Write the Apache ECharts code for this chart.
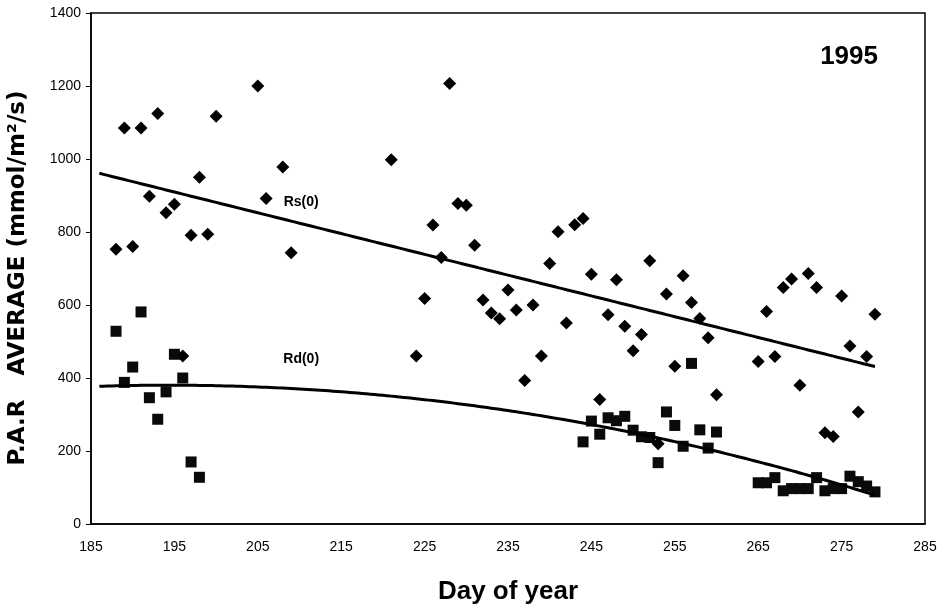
<!DOCTYPE html>
<html>
<head>
<meta charset="utf-8">
<title>P.A.R average 1995</title>
<script src="https://cdn.jsdelivr.net/npm/echarts@6/dist/echarts.min.js"></script>
<style>
  html, body { margin: 0; padding: 0; background: #fff; }
  #chart { width: 946px; height: 605px; }
</style>
</head>
<body>
<div id="chart"></div>
<script>
// Direct radiation Rs(0): day of year and PAR average
const rsDays = [188, 189, 190, 191, 192, 193, 194, 195, 196, 197, 198, 199, 200, 205, 206, 208, 209,
  221, 224, 225, 226, 227, 228, 229, 230, 231, 232, 233, 234, 235, 236, 237, 238, 239, 240, 241, 242, 243, 244,
  245, 246, 247, 248, 249, 250, 251, 252, 253, 254, 255, 256, 257, 258, 259, 260,
  265, 266, 267, 268, 269, 270, 271, 272, 273, 274, 275, 276, 277, 278, 279];
const rsValues = [753, 1085, 760, 1085, 898, 1125, 853, 876, 460, 791, 950, 794, 1117, 1200, 892, 978, 743,
  998, 460, 618, 819, 730, 1207, 878, 873, 764, 614, 578, 562, 641, 586, 393, 600, 460, 714, 801, 551, 820, 837,
  684, 341, 573, 669, 542, 475, 519, 721, 220, 630, 432, 680, 607, 563, 510, 354,
  445, 582, 459, 648, 671, 380, 686, 648, 250, 240, 625, 488, 307, 459, 575];

// Diffuse radiation Rd(0)
const rdDays = [188, 189, 190, 191, 192, 193, 194, 195, 196, 197, 198,
  244, 245, 246, 247, 248, 249, 250, 251, 252, 253, 254, 255, 256, 257, 258, 259, 260,
  265, 266, 267, 268, 269, 270, 271, 272, 273, 274, 275, 276, 277, 278, 279];
const rdValues = [528, 388, 430, 581, 346, 287, 362, 465, 400, 170, 128,
  225, 282, 246, 291, 283, 295, 257, 239, 237, 168, 307, 270, 213, 440, 258, 208, 252,
  113, 113, 127, 91, 97, 97, 97, 127, 91, 97, 97, 131, 116, 104, 88];

// Axis ticks
const xTicks = [185, 195, 205, 215, 225, 235, 245, 255, 265, 275, 285];
const yTicks = [0, 200, 400, 600, 800, 1000, 1200, 1400];

// Trend line span (days)
const fitStart = 186;
const fitEnd = 279;

// Least-squares polynomial fit (normal equations, Gaussian elimination)
function polyFit(xs, ys, degree) {
  const n = degree + 1;
  const A = [];
  for (let r = 0; r < n; r++) {
    A.push(new Array(n + 1).fill(0));
  }
  for (let i = 0; i < xs.length; i++) {
    const x = xs[i], y = ys[i];
    for (let r = 0; r < n; r++) {
      for (let c = 0; c < n; c++) A[r][c] += Math.pow(x, r + c);
      A[r][n] += y * Math.pow(x, r);
    }
  }
  for (let p = 0; p < n; p++) {
    let best = p;
    for (let r = p + 1; r < n; r++) if (Math.abs(A[r][p]) > Math.abs(A[best][p])) best = r;
    [A[p], A[best]] = [A[best], A[p]];
    for (let r = p + 1; r < n; r++) {
      const f = A[r][p] / A[p][p];
      for (let c = p; c <= n; c++) A[r][c] -= f * A[p][c];
    }
  }
  const coef = new Array(n).fill(0);
  for (let r = n - 1; r >= 0; r--) {
    let s = A[r][n];
    for (let c = r + 1; c < n; c++) s -= A[r][c] * coef[c];
    coef[r] = s / A[r][r];
  }
  return coef;
}
function fitLine(coef) {
  const pts = [];
  for (let d = fitStart; d <= fitEnd; d += 0.5) {
    let v = 0;
    coef.forEach((c, k) => { v += c * Math.pow(d, k); });
    pts.push([d, v]);
  }
  return pts;
}

const rsFit = fitLine(polyFit(rsDays, rsValues, 1));
const rdFit = fitLine(polyFit(rdDays, rdValues, 2));

const zip = (xs, ys) => xs.map((x, i) => [x, ys[i]]);

const FONT = "'Liberation Sans', Arial, sans-serif";
const WIDE_FONT = "'DejaVu Sans', 'Liberation Sans', sans-serif";

// Series name labels placed at data coordinates
function nameTag(text, coord) {
  return {
    symbol: 'rect',
    symbolSize: 1,
    itemStyle: { color: 'rgba(0,0,0,0)' },
    label: { show: true, position: 'inside', formatter: text, fontFamily: FONT, fontSize: 14, fontWeight: 'bold', color: '#000' },
    data: [{ coord: coord }]
  };
}

const chart = echarts.init(document.getElementById('chart'), null, { renderer: 'canvas' });
chart.setOption({
  animation: false,
  backgroundColor: '#ffffff',
  grid: {
    left: 91, right: 21, top: 13, bottom: 81,
    outerBoundsMode: 'none', containLabel: false,
    show: true, borderColor: '#000', borderWidth: 1.5
  },
  xAxis: {
    type: 'value',
    min: xTicks[0],
    max: xTicks[xTicks.length - 1],
    interval: 10,
    name: 'Day of year',
    nameLocation: 'middle',
    nameGap: 55,
    nameTextStyle: { fontFamily: FONT, fontSize: 26, fontWeight: 'bold', color: '#000' },
    axisLine: { show: true, lineStyle: { color: '#000', width: 1.5 } },
    axisTick: { show: false },
    splitLine: { show: false },
    axisLabel: { fontFamily: FONT, fontSize: 14, color: '#000', margin: 16 }
  },
  yAxis: {
    type: 'value',
    min: yTicks[0],
    max: yTicks[yTicks.length - 1],
    interval: 200,
    axisLine: { show: true, lineStyle: { color: '#000', width: 1.5 } },
    axisTick: { show: true, inside: false, length: 5, lineStyle: { color: '#000' } },
    splitLine: { show: false },
    axisLabel: { fontFamily: FONT, fontSize: 14, color: '#000', margin: 10, formatter: v => String(v) }
  },
  graphic: [
    {
      type: 'text',
      x: 18,
      y: 278,
      rotation: Math.PI / 2,
      style: {
        text: 'P.A.R   AVERAGE (mmol/m²/s)',
        font: "bold 23px " + WIDE_FONT,
        fill: '#000',
        align: 'center',
        verticalAlign: 'middle'
      }
    },
    {
      type: 'text',
      right: 68,
      top: 44,
      style: { text: '1995', font: "bold 26px " + FONT, fill: '#000' }
    }
  ],
  series: [
    {
      name: 'Rs(0)',
      type: 'scatter',
      symbol: 'diamond',
      symbolSize: 13,
      itemStyle: { color: '#000', opacity: 1 },
      data: zip(rsDays, rsValues),
      z: 3
    },
    {
      name: 'Rd(0)',
      type: 'scatter',
      symbol: 'rect',
      symbolSize: 11,
      itemStyle: { color: '#0a0a0a', opacity: 1 },
      data: zip(rdDays, rdValues),
      z: 3
    },
    {
      name: 'Rs(0) trend',
      type: 'line',
      showSymbol: false,
      lineStyle: { color: '#000', width: 3 },
      data: rsFit,
      z: 4,
      markPoint: nameTag('Rs(0)', [210.2, 882])
    },
    {
      name: 'Rd(0) trend',
      type: 'line',
      showSymbol: false,
      lineStyle: { color: '#000', width: 3 },
      data: rdFit,
      z: 4,
      markPoint: nameTag('Rd(0)', [210.2, 453])
    }
  ]
});
</script>
</body>
</html>
